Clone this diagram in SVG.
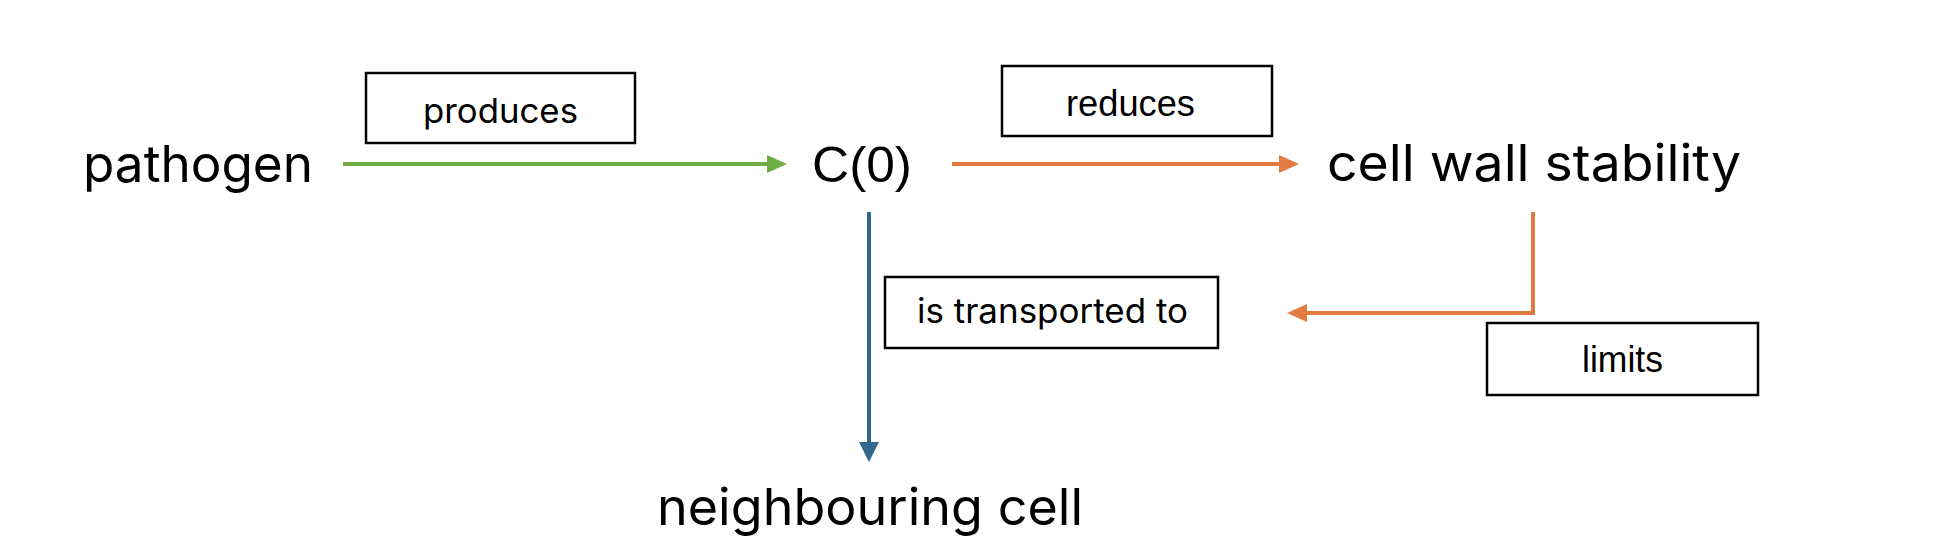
<svg xmlns="http://www.w3.org/2000/svg" width="1936" height="554" viewBox="0 0 1936 554">
<style>
  .big { font-family: Inter, "Open Sans", "Liberation Sans", sans-serif; font-size: 51px; fill: #000; }
  .lbl { font-family: Inter, "Open Sans", "Liberation Sans", sans-serif; font-size: 34px; fill: #000; }
  .arial { font-family: "Liberation Sans", Arial, sans-serif; fill: #000; }
  .box { fill: #fff; stroke: #000; stroke-width: 2.5; }
  .conn { fill: none; stroke-width: 4; }
</style>
<defs>
  <marker id="ahG" markerUnits="userSpaceOnUse" markerWidth="20" markerHeight="18" viewBox="0 0 20 18" refX="2" refY="9" orient="auto">
    <path d="M0,0 L20,9 L0,18 z" fill="#70AD47"/>
  </marker>
  <marker id="ahO" markerUnits="userSpaceOnUse" markerWidth="20" markerHeight="18" viewBox="0 0 20 18" refX="2" refY="9" orient="auto">
    <path d="M0,0 L20,9 L0,18 z" fill="#E27B42"/>
  </marker>
  <marker id="ahB" markerUnits="userSpaceOnUse" markerWidth="20" markerHeight="20" viewBox="0 0 20 20" refX="2" refY="10" orient="auto">
    <path d="M0,0 L20,10 L0,20 z" fill="#33668C"/>
  </marker>
</defs>
<rect width="1936" height="554" fill="#fff"/>
<g id="connectors">
  <path class="conn" d="M343,164 H769" stroke="#70AD47" marker-end="url(#ahG)"/>
  <path class="conn" d="M952,164 H1281" stroke="#E27B42" marker-end="url(#ahO)"/>
  <path class="conn" d="M1533,212 V313 H1305" stroke="#E27B42" marker-end="url(#ahO)"/>
  <path class="conn" d="M869,212 V444" stroke="#33668C" marker-end="url(#ahB)"/>
</g>
<g id="node-pathogen">
  <text class="big" x="83" y="182" textLength="230" lengthAdjust="spacingAndGlyphs">pathogen</text>
</g>
<g id="node-c0">
  <text class="arial" x="812" y="182" font-size="50" textLength="100" lengthAdjust="spacingAndGlyphs">C(0)</text>
</g>
<g id="node-cellwall">
  <text class="big" x="1327" y="181" textLength="414" lengthAdjust="spacingAndGlyphs">cell wall stability</text>
</g>
<g id="node-neighbour">
  <text class="big" x="657" y="525" textLength="426" lengthAdjust="spacingAndGlyphs">neighbouring cell</text>
</g>
<g id="label-produces">
  <rect class="box" x="366" y="73" width="269" height="70"/>
  <text class="lbl" x="500.5" y="123" text-anchor="middle" textLength="155" lengthAdjust="spacingAndGlyphs">produces</text>
</g>
<g id="label-reduces">
  <rect class="box" x="1002" y="66" width="270" height="70"/>
  <text class="arial" x="1130.5" y="116" font-size="37" text-anchor="middle" textLength="129" lengthAdjust="spacingAndGlyphs">reduces</text>
</g>
<g id="label-transported">
  <rect class="box" x="885" y="277" width="333" height="71"/>
  <text class="lbl" x="1052.5" y="323" text-anchor="middle" textLength="271" lengthAdjust="spacingAndGlyphs">is transported to</text>
</g>
<g id="label-limits">
  <rect class="box" x="1487" y="323" width="271" height="72"/>
  <text class="arial" x="1622.5" y="372" font-size="37" text-anchor="middle" textLength="81" lengthAdjust="spacingAndGlyphs">limits</text>
</g>
</svg>
